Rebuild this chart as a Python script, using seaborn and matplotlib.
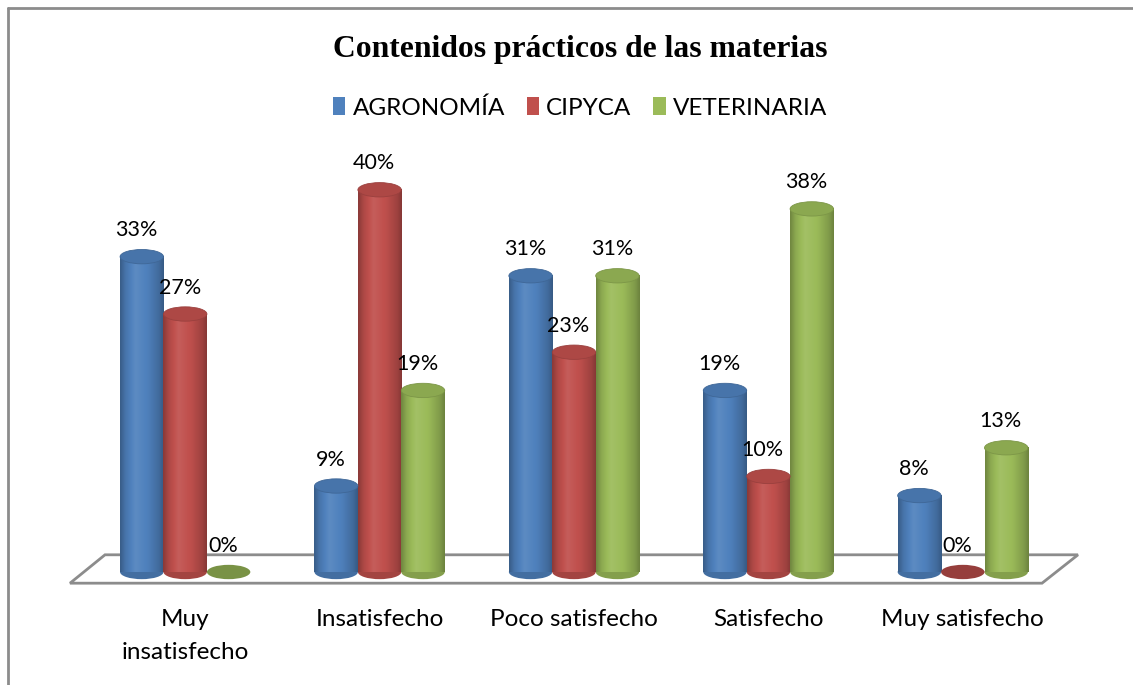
import numpy as np
import pandas as pd
import matplotlib
matplotlib.use("Agg")
import matplotlib.pyplot as plt
import seaborn as sns
from matplotlib.patches import Ellipse, Polygon, Patch
from matplotlib.lines import Line2D
from matplotlib.colors import to_rgb

# ---- data ----
categories = ["Muy\ninsatisfecho", "Insatisfecho", "Poco satisfecho", "Satisfecho", "Muy satisfecho"]
series = ["AGRONOMÍA", "CIPYCA", "VETERINARIA"]
agronomia = [33, 9, 31, 19, 8]
cipyca = [27, 40, 23, 10, 0]
veterinaria = [0, 19, 31, 38, 13]
colors = ["#4F81BD", "#C0504D", "#9BBB59"]
title = "Contenidos prácticos de las materias"

df = pd.DataFrame({
    "cat": categories * 3,
    "serie": [s for s in series for _ in categories],
    "val": agronomia + cipyca + veterinaria,
})

sns.set_theme(style="white")
plt.rcParams["font.family"] = ["Lato", "DejaVu Sans"]
plt.rcParams["text.color"] = "black"
plt.rcParams["xtick.color"] = "black"

W, H = 1133, 685
fig = plt.figure(figsize=(W / 100, H / 100), dpi=100)
fig.patch.set_facecolor("white")
ax_l, ax_r, ax_b, ax_t = 88, 1060, 572, 142
ax = fig.add_axes([ax_l / W, 1 - ax_b / H, (ax_r - ax_l) / W, (ax_b - ax_t) / H])

sns.barplot(data=df, x="cat", y="val", hue="serie", order=categories, hue_order=series,
            palette=colors, width=0.67, saturation=1, ax=ax, legend=False, errorbar=None)

YMAX = 45
ax.set_xlim(-0.5, 4.5)
ax.set_ylim(0, YMAX)


def shade(c, f):
    c = np.array(to_rgb(c))
    if f < 1:
        return np.clip(c * f, 0, 1)
    return np.clip(c + (1 - c) * (f - 1), 0, 1)


# floor
floor = Polygon([(-0.0185, -0.026), (0.0175, 0.040), (1.0185, 0.040), (0.9815, -0.026)],
                closed=True, transform=ax.transAxes, facecolor="white",
                edgecolor="#8c8c8c", lw=2, zorder=0.5, clip_on=False)
ax.add_patch(floor)

ell_h = 1.5  # cap height in data units
tpos = np.linspace(0, 1, 60)
prof = np.interp(tpos, [0, 0.12, 0.35, 0.65, 0.9, 1], [0.72, 0.9, 1.08, 0.98, 0.82, 0.7])

for i, cont in enumerate(ax.containers):
    col = colors[i]
    for bar in cont:
        x0 = bar.get_x()
        w = bar.get_width()
        h = bar.get_height()
        cx = x0 + w / 2
        if h > 0:
            bar.set_zorder(2)
            bar.set_edgecolor("none")
            grad = np.array([[shade(col, f) for f in prof]])
            ax.imshow(grad, extent=[x0, x0 + w, 0, h], aspect="auto", zorder=2.1,
                      interpolation="bicubic")
            ax.add_patch(Ellipse((cx, 0), w, ell_h, facecolor=shade(col, 0.85),
                                 edgecolor="none", zorder=1.8, clip_on=False))
            ax.add_patch(Ellipse((cx, h), w, ell_h, facecolor=shade(col, 0.9),
                                 edgecolor=shade(col, 0.8), lw=0.6, zorder=2.3, clip_on=False))
        else:
            ax.add_patch(Ellipse((cx, 0), w, ell_h, facecolor=shade(col, 0.78),
                                 edgecolor="none", zorder=2.3, clip_on=False))
        ax.annotate(f"{h:.0f}%", (cx, h), xytext=(-4, 19), textcoords="offset points",
                    ha="center", va="center", fontsize=15.5, color="black", zorder=5,
                    annotation_clip=False)

ax.set_xlim(-0.5, 4.5)
ax.set_ylim(0, YMAX)
ax.set_xlabel("")
ax.set_ylabel("")
ax.set_yticks([])
ax.tick_params(axis="x", length=0, pad=27, labelsize=17.5)
for lab in ax.get_xticklabels():
    lab.set_linespacing(1.65)
    lab.set_ha("center")
sns.despine(ax=ax, left=True, bottom=True)
ax.patch.set_alpha(0)

# title
fig.text(0.512, 1 - 49 / H, title, ha="center", va="center", fontsize=22.8,
         fontweight="bold", family="Liberation Serif", color="black")

# legend
handles = [Patch(facecolor=c, edgecolor="none", label=s) for s, c in zip(series, colors)]
fig.legend(handles=handles, loc="center", bbox_to_anchor=(0.512, 1 - 108 / H), ncol=3,
           frameon=False, fontsize=17.5, handlelength=0.5, handleheight=0.75,
           handletextpad=0.3, columnspacing=0.9)

# outer border (left and top)
fig.add_artist(Line2D([8 / W, 8 / W], [0, 1 - 8 / H], transform=fig.transFigure,
                      color="#8c8c8c", lw=2))
fig.add_artist(Line2D([8 / W, 1], [1 - 8 / H, 1 - 8 / H], transform=fig.transFigure,
                      color="#8c8c8c", lw=2))

fig.savefig("out.png", dpi=100)
